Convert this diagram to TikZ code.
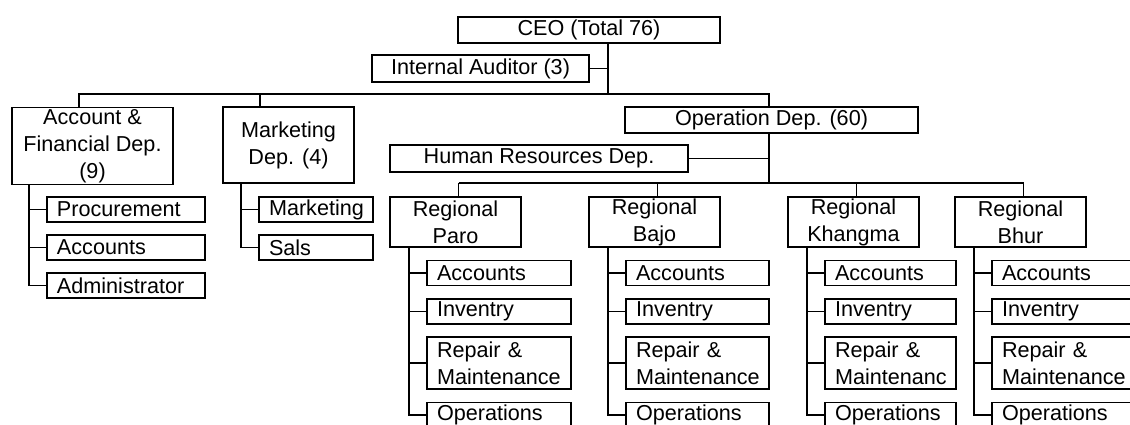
\documentclass[tikz,border=0pt]{standalone}
\usepackage{fontspec}
\setmainfont{Liberation Sans}
\usetikzlibrary{calc}
\tikzset{
  unit/.style={draw, line width=1.1pt, align=center, inner xsep=2pt, inner ysep=1pt},
  wd/.style={minimum width=#1*0.02cm},
  ht/.style={minimum height=#1*0.02cm},
  leaf/.style={draw, line width=1.1pt, align=left, inner xsep=0.2cm, inner ysep=1pt,
    text width=#1*0.02cm-0.4cm, minimum height=0.5cm},
  link/.style={line width=1.1pt}
}

\begin{document}
\begin{tikzpicture}[x=0.02cm, y=-0.02cm, font=\fontsize{12.3}{15.4}\selectfont]
      \clip (0,0) rectangle (1130,425); %crop frame

      %TOP LEVEL
      \node[unit, wd=262, ht=26] (ceo) at (589,30) {CEO (Total 76)};
      \node[unit, wd=217, ht=27] (aud) at (480.5,68.5) {Internal Auditor (3)};
      \node[unit, wd=161, ht=76] (acc) at (92.5,146) {Account \&\\Financial Dep.\\(9)};
      \node[unit, wd=131, ht=76] (mkt) at (288.5,145) {Marketing\\Dep. (4)};
      \node[unit, wd=293, ht=26] (opd) at (771.5,120) {Operation Dep. (60)};
      \node[unit, wd=298, ht=27] (hrd) at (539,158.5) {Human Resources Dep.};

      \coordinate (topbus) at (608,94); %bus lines
      \coordinate (regbus) at (769,183);
      \draw[link] (ceo.south -| topbus) -- (topbus);
      \draw[link] (aud.east) -- (aud.east -| topbus);
      \draw[link] ($(acc.north)+(-13.5,0)$) |- (topbus) -| (regbus |- opd.north);
      \coordinate (mktdrop) at ($(mkt.north)+(-28.5,0)$);
      \draw[link] (mktdrop) -- (mktdrop |- topbus);
      \draw[link] (regbus |- opd.south) -- (regbus);
      \draw[link] (hrd.east) -- (hrd.east -| regbus);

      %ACCOUNT AND MARKETING UNITS
      \node[leaf=158] (proc) at (126,209.5) {Procurement};
      \node[leaf=158] (accs) at (126,247.5) {Accounts};
      \node[leaf=158] (admin) at (126,285.5) {Administrator};
      \node[leaf=114] (mkg) at (316,209.5) {Marketing};
      \node[leaf=114] (sals) at (316,247.5) {Sals};

      \coordinate (acctrunk) at ($(proc.west)+(-17,0)$); %account branches
      \draw[link] (acctrunk |- acc.south) -- (acctrunk |- admin.west) -- (admin.west);
      \draw[link] (acctrunk |- proc.west) -- (proc.west);
      \draw[link] (acctrunk |- accs.west) -- (accs.west);
      \coordinate (mkttrunk) at ($(mkg.west)+(-17,0)$); %marketing branches
      \draw[link] (mkttrunk |- mkt.south) -- (mkttrunk |- sals.west) -- (sals.west);
      \draw[link] (mkttrunk |- mkg.west) -- (mkg.west);

      %REGIONAL OFFICES
      \foreach \n/\x/\w/\rname/\mtext in {paro/390/144/Paro/Maintenance,
          bajo/589/143/Bajo/Maintenance, khangma/788/131/Khangma/Maintenanc,
          bhur/955/159/Bhur/Maintenance}{
        \node[unit, wd=131, ht=50] (\n) at (\x+65.5,222) {Regional\\\rname};
        \node[leaf=\w] (\n1) at (\x+37+\w/2,273) {Accounts};
        \node[leaf=\w] (\n2) at (\x+37+\w/2,311.5) {Inventry};
        \node[leaf=\w, ht=52] (\n3) at (\x+37+\w/2,363) {Repair \&\\\mtext};
        \node[leaf=\w] (\n4) at (\x+37+\w/2,415) {Operations};
        \path ($(\n.north)+(3,0)$) coordinate (\n top); %drop to bus
        \draw[link] (\n top) -- (\n top |- regbus);
        \coordinate (\n trunk) at ($(\n.west)+(20,0)$); %office branches
        \draw[link] (\n trunk |- \n.south) -- (\n trunk |- \n4.west) -- (\n4.west);
        \foreach \k in {1,2,3}
          \draw[link] (\n trunk |- \n\k.west) -- (\n\k.west);
      }
      \draw[link] (parotop |- regbus) -- (bhurtop |- regbus); %regional bus
\end{tikzpicture}
\end{document}
